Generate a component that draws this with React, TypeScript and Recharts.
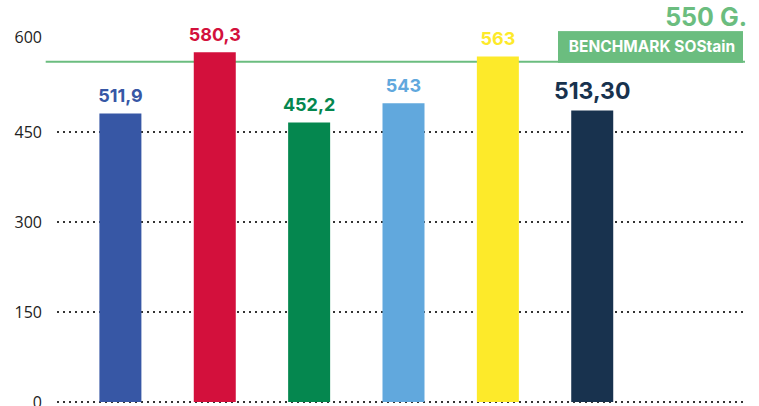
import React from 'react';
import { BarChart, Bar, XAxis, YAxis, CartesianGrid, ReferenceLine, LabelList, Cell } from 'recharts';

const categories = ['c1', 'c2', 'c3', 'c4', 'c5', 'c6'];
const barValues = [481, 583, 466, 498, 576, 486];
const labelTexts = ['511,9', '580,3', '452,2', '543', '563', '513,30'];
const yTicks = [0, 150, 300, 450, 600];
const gridValues = [0, 150, 300, 450];
const benchmarkValue = 567;
const benchmarkTitle = '550 G.';
const benchmarkText = 'BENCHMARK SOStain';

const barColors = ['#3757A5', '#D3103C', '#05874F', '#61A8DD', '#FDEA2A', '#18324E'];
const labelFontSizes = [18, 18, 18, 18, 18, 23];
const GREEN = '#6BBD7F';

const data = categories.map((c, i) => ({ name: c, value: barValues[i], label: labelTexts[i] }));

const BarLabel = (props: any) => {
  const { x, y, width, value } = props;
  const i = labelTexts.indexOf(String(value));
  return (
    <text
      x={Number(x) + Number(width) / 2}
      y={Number(y) - 11}
      textAnchor="middle"
      fill={barColors[i]}
      fontFamily="Inter"
      fontWeight={700}
      fontSize={labelFontSizes[i]}
    >
      {value}
    </text>
  );
};

const YTick = (props: any) => {
  const { x, y, payload } = props;
  const shift = payload.value === 600 ? -5 : 0;
  return (
    <text x={x} y={y + shift} dy="0.355em" textAnchor="end" fill="#222" fontFamily="Open Sans" fontSize={16}>
      {payload.value}
    </text>
  );
};

const BenchmarkLabel = (props: any) => {
  const vb = props.viewBox || {};
  const right = vb.x + vb.width;
  const ly = vb.y;
  const boxW = 185;
  const boxRight = right - 2;
  const boxLeft = boxRight - boxW;
  return (
    <g>
      <rect x={boxLeft} y={ly - 30.7} width={boxW} height={31.7} fill={GREEN} />
      <text x={boxLeft + boxW / 2 + 1.5} y={ly - 9.8} textAnchor="middle" fill="#fff" fontFamily="Inter" fontWeight={700} fontSize={15.5}>
        {benchmarkText}
      </text>
      <text x={right + 2} y={ly - 35.7} textAnchor="end" fill={GREEN} fontFamily="Inter" fontWeight={700} fontSize={25}>
        {benchmarkTitle}
      </text>
    </g>
  );
};

const BenchLine = (p: any) => (
  <line x1={p.x1 - 11.3} y1={p.y1} x2={p.x2} y2={p.y2} stroke={GREEN} strokeWidth={2} />
);

export default function App() {
  return (
    <div style={{ position: 'absolute', left: 0, top: 0, width: 759, height: 406, background: '#fff' }}>
      <BarChart width={759} height={406} data={data} margin={{ top: 42, right: 14, bottom: 4, left: 0 }}>
        <CartesianGrid
          vertical={false}
          horizontalValues={gridValues}
          stroke="#333"
          strokeWidth={2}
          strokeDasharray="2 4"
        />
        <XAxis dataKey="name" hide padding={{ left: 16.4, right: 105.4 }} />
        <YAxis
          width={57}
          domain={[0, 600]}
          ticks={yTicks}
          axisLine={false}
          tickLine={false}
          tickSize={0}
          tickMargin={15}
          tick={<YTick />}
          interval={0}
        />
        <ReferenceLine
          y={benchmarkValue}
          stroke={GREEN}
          strokeWidth={2}
          shape={BenchLine}
          label={(p: any) => <BenchmarkLabel {...p} />}
          zIndex={100}
        />
        <Bar dataKey="value" barSize={42} isAnimationActive={false}>
          {data.map((d, i) => (
            <Cell key={d.name} fill={barColors[i]} />
          ))}
          <LabelList dataKey="label" content={<BarLabel />} />
        </Bar>
      </BarChart>
    </div>
  );
}
